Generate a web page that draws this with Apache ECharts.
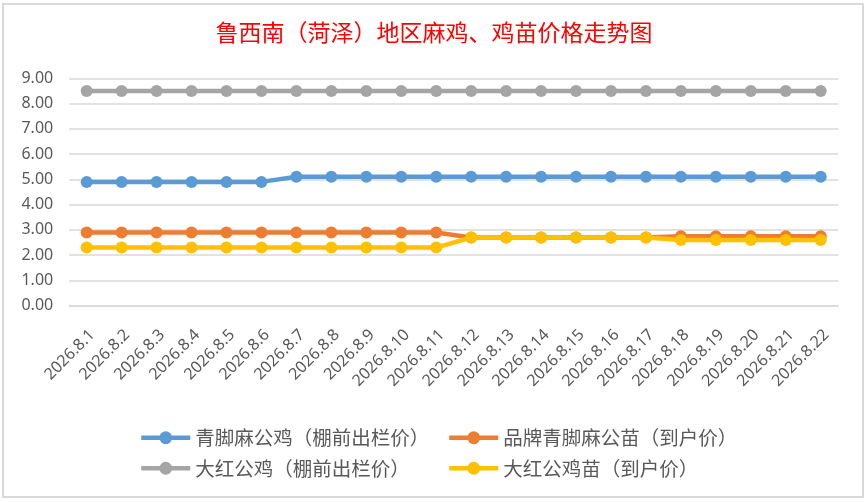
<!DOCTYPE html>
<html>
<head>
<meta charset="utf-8">
<script src="https://cdn.jsdelivr.net/npm/echarts@6/dist/echarts.min.js"></script>
<style>
  html, body { margin: 0; padding: 0; background: #ffffff; }
  #frame { position: absolute; left: 2px; top: 3px; width: 862px; height: 495px; box-sizing: border-box; border: 2px solid #d9d9d9; background: #ffffff; }
  #chart { position: absolute; left: 0; top: 0; width: 868px; height: 502px; }
</style>
</head>
<body>
<div id="frame"></div>
<div id="chart"></div>
<script>
const titleText = '鲁西南（菏泽）地区麻鸡、鸡苗价格走势图';
const categories = ['2026.8.1','2026.8.2','2026.8.3','2026.8.4','2026.8.5','2026.8.6','2026.8.7','2026.8.8','2026.8.9','2026.8.10','2026.8.11','2026.8.12','2026.8.13','2026.8.14','2026.8.15','2026.8.16','2026.8.17','2026.8.18','2026.8.19','2026.8.20','2026.8.21','2026.8.22'];
const seriesNames = ['青脚麻公鸡（棚前出栏价）','品牌青脚麻公苗（到户价）','大红公鸡（棚前出栏价）','大红公鸡苗（到户价）'];
const qingjiaoJi = [4.9,4.9,4.9,4.9,4.9,4.9,5.1,5.1,5.1,5.1,5.1,5.1,5.1,5.1,5.1,5.1,5.1,5.1,5.1,5.1,5.1,5.1];
const pinpaiMiao = [2.9,2.9,2.9,2.9,2.9,2.9,2.9,2.9,2.9,2.9,2.9,2.7,2.7,2.7,2.7,2.7,2.7,2.75,2.75,2.75,2.75,2.75];
const dahongJi = [8.5,8.5,8.5,8.5,8.5,8.5,8.5,8.5,8.5,8.5,8.5,8.5,8.5,8.5,8.5,8.5,8.5,8.5,8.5,8.5,8.5,8.5];
const dahongMiao = [2.3,2.3,2.3,2.3,2.3,2.3,2.3,2.3,2.3,2.3,2.3,2.7,2.7,2.7,2.7,2.7,2.7,2.6,2.6,2.6,2.6,2.6];
const colors = ['#5B9BD5','#ED7D31','#A5A5A5','#FFC000'];
const seriesData = [qingjiaoJi, pinpaiMiao, dahongJi, dahongMiao];

const chart = echarts.init(document.getElementById('chart'), null, { renderer: 'canvas' });
const legendText = { fontSize: 19.5, color: '#595959', fontFamily: 'Noto Sans CJK SC' };
const legendCommon = {
  orient: 'vertical', itemWidth: 49, itemHeight: 16, itemGap: 11,
  textStyle: legendText, top: 423,
  lineStyle: { width: 4.5 }
};
chart.setOption({
  backgroundColor: 'transparent',
  animation: false,
  title: {
    text: titleText, left: 'center', top: 16,
    textStyle: { color: '#FF0000', fontSize: 23, fontWeight: 'normal', fontFamily: 'Noto Sans CJK SC' }
  },
  legend: [
    Object.assign({}, legendCommon, { left: 134, data: [seriesNames[0], seriesNames[2]] }),
    Object.assign({}, legendCommon, { left: 442, data: [seriesNames[1], seriesNames[3]] })
  ],
  grid: { left: 69.2, right: 29.8, top: 78.3, bottom: 196.3, containLabel: false },
  xAxis: {
    type: 'category', data: categories, boundaryGap: true,
    axisLine: { show: true, lineStyle: { color: '#d9d9d9', width: 1.5 } },
    axisTick: { show: false },
    axisLabel: { rotate: 45, interval: 0, fontSize: 16, color: '#595959', fontFamily: 'Noto Sans', margin: 21, verticalAlign: 'top' }
  },
  yAxis: {
    type: 'value', min: 0, max: 9, interval: 1,
    axisLine: { show: false }, axisTick: { show: false },
    axisLabel: { fontSize: 16, color: '#595959', fontFamily: 'Noto Sans', margin: 16, formatter: v => v.toFixed(2) },
    splitLine: { lineStyle: { color: '#d9d9d9', width: 1.5 } }
  },
  series: seriesNames.map((n, i) => ({
    name: n, type: 'line', data: seriesData[i],
    symbol: 'circle', symbolSize: 12,
    lineStyle: { width: 4.5, color: colors[i] },
    itemStyle: { color: colors[i] },
    z: 2 + i
  }))
});
</script>
</body>
</html>
